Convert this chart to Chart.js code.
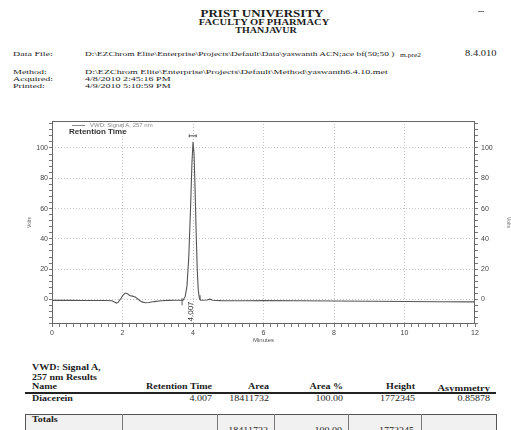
<!DOCTYPE html>
<html>
<head>
<meta charset="utf-8">
<script src="https://cdn.jsdelivr.net/npm/chart.js@4"></script>
<style>
body{margin:0;width:511px;height:430px;overflow:hidden;background:#fff;position:relative;
  font-family:"Liberation Serif","Times New Roman",serif;color:#1c1c1c}
.t{position:absolute;white-space:nowrap;line-height:1;transform-origin:0 50%}
#wrap{position:absolute;left:0;top:100px;width:511px;height:260px}
.rule{position:absolute;background:#333}
</style>
</head>
<body>
<div id="wrap"><canvas id="chrom" width="511" height="260"></canvas></div>
<script>
// chromatogram trace (minutes, signal)
var retentionMinutes = [0, 0.5, 1.0, 1.5, 1.7, 1.78, 1.83, 1.88, 1.95, 2.02, 2.08, 2.14, 2.2, 2.28, 2.36, 2.45, 2.55, 2.65, 2.75, 2.9, 3.1, 3.3, 3.5,
  3.72, 3.78, 3.83, 3.88, 3.93, 3.97, 4.0, 4.03, 4.06, 4.09, 4.12, 4.15, 4.18, 4.22,
  4.4, 4.48, 4.56, 4.8, 5.5, 6, 7, 8, 9, 10, 11, 12];
var signal = [-0.6, -0.6, -0.7, -0.7, -0.9, -1.8, -2.4, -1.8, 0.5, 3.0, 4.2, 3.8, 2.6, 2.2, 1.6, 0, -1.6, -2.2, -2.0, -1.4, -0.9, -0.6, -0.5,
  -0.5, 2, 9, 28, 60, 90, 104, 96, 72, 44, 20, 6, 1, -0.5,
  -0.4, 0.2, -0.5, -0.8, -0.9, -0.8, -0.9, -1.0, -1.2, -1.3, -1.5, -1.6];
var xTickValues = [0, 2, 4, 6, 8, 10, 12];
var yTickValues = [0, 20, 40, 60, 80, 100];
var peakTimes = [4.007];
var peakNames = ['Diacerein'];

// results table
var resultHeaders = ['Name', 'Retention Time', 'Area', 'Area %', 'Height', 'Asymmetry'];
var resultRow = ['Diacerein', '4.007', '18411732', '100.00', '1772345', '0.85878'];
var totalsRow = ['Totals', '', '18411732', '100.00', '1772345', ''];

function put(text, x, y, o) {
  o = o || {};
  var el = document.createElement('div');
  el.className = 't';
  el.textContent = text;
  var s = el.style;
  s.fontSize = (o.size || 10) + 'px';
  if (o.bold) s.fontWeight = 'bold';
  if (o.sans) s.fontFamily = '"Liberation Sans", Arial, sans-serif';
  if (o.color) s.color = o.color;
  s.top = y + 'px';
  var tx = '0';
  if (o.align === 'center') { s.left = x + 'px'; tx = '-50%'; }
  else if (o.align === 'right') { s.right = (511 - x) + 'px'; }
  else s.left = x + 'px';
  s.transform = 'translate(' + tx + ',-50%) scaleY(' + (o.sy || 0.7) + ')';
  document.body.appendChild(el);
  return el;
}
function line(x, y, w, h, c) {
  var d = document.createElement('div');
  d.className = 'rule';
  d.style.cssText = 'left:' + x + 'px;top:' + y + 'px;width:' + w + 'px;height:' + h + 'px;background:' + (c || '#333');
  document.body.appendChild(d);
}

// page header
put('PRIST UNIVERSITY', 262, 14, {size: 13, bold: true, align: 'center', sy: 0.75});
put('FACULTY OF PHARMACY', 264, 23, {size: 10.5, bold: true, align: 'center', sy: 0.72});
put('THANJAVUR', 266, 31, {size: 10, bold: true, align: 'center', sy: 0.72});
line(478, 11, 6, 1, '#777');

put('Data File:', 13, 54);
put(String.raw`D:\EZChrom Elite\Enterprise\Projects\Default\Data\yaswanth ACN;ace bf(50;50 )`, 85, 54, {size: 9.4});
put('m.pre2', 400, 54.5, {size: 7.5});
put('8.4.010', 465, 54, {size: 10.5});
put('Method:', 13, 72);
put(String.raw`D:\EZChrom Elite\Enterprise\Projects\Default\Method\yaswanth6.4.10.met`, 85, 72);
put('Acquired:', 13, 79);
put('4/8/2010 2:45:16 PM', 85, 79);
put('Printed:', 13, 86);
put('4/9/2010 5:10:59 PM', 85, 86);

// legend inside plot
line(72, 125, 13, 1, '#888');
put('VWD: Signal A, 257 nm', 90, 125, {size: 6, sans: true, color: '#888', sy: 0.8});
put('Retention Time', 69, 131.5, {size: 8, sans: true, bold: true, color: '#333', sy: 0.8});

// results
put('VWD: Signal A,', 32, 368, {size: 10, bold: true, sy: 0.75});
put('257 nm Results', 32, 378, {size: 10, bold: true, sy: 0.75});
var colRight = [0, 212, 269, 343, 415, 490];
resultHeaders.forEach(function (h, i) {
  if (i === 0) put(h, 32, 387, {size: 10, bold: true, sy: 0.75});
  else put(h, colRight[i], i === 5 ? 388.5 : 387, {size: i === 5 ? 10.5 : 10, bold: true, align: 'right', sy: 0.75});
});
line(25, 392, 471, 1.5, '#222');
resultRow.forEach(function (v, i) {
  if (i === 0) put(v, 32, 399, {size: 10, bold: true, sy: 0.75});
  else put(v, colRight[i], 399, {size: 10, align: 'right', sy: 0.75});
});
var box = document.createElement('div');
box.style.cssText = 'position:absolute;left:25px;top:414px;width:470px;height:30px;border:1px solid #555;background:#f1f1f1';
document.body.appendChild(box);
[122, 217, 274, 348, 421].forEach(function (x) { line(x, 414, 1, 20, '#777'); });
totalsRow.forEach(function (v, i) {
  if (!v) return;
  if (i === 0) put(v, 32, 420, {size: 10, bold: true, sy: 0.75});
  else put(v, colRight[i] - 1, 431, {size: 10, align: 'right', sy: 0.75});
});

var gridGray = '#c4c4c4';
var tickFont = {family: '"Liberation Sans", Arial, sans-serif', size: 7};

var annotate = {
  id: 'annotate',
  afterDatasetsDraw: function (chart) {
    var ctx = chart.ctx, a = chart.chartArea, x = chart.scales.x, y = chart.scales.y;
    ctx.save();
    ctx.strokeStyle = '#666';
    ctx.lineWidth = 1;
    ctx.strokeRect(a.left + 0.5, a.top + 0.5, a.right - a.left - 1, a.bottom - a.top - 1);
    ctx.strokeStyle = '#555';
    ctx.fillStyle = '#333';
    peakTimes.forEach(function (t) {
      var px = x.getPixelForValue(t);
      // start / end integration marks
      var xs = x.getPixelForValue(3.69), xe = x.getPixelForValue(4.2), yb = y.getPixelForValue(-0.5);
      ctx.beginPath();
      ctx.moveTo(xs, yb - 2); ctx.lineTo(xs, yb + 5);
      ctx.moveTo(xe, yb); ctx.lineTo(xe, yb - 5);
      // apex marker
      var ya = y.getPixelForValue(108);
      ctx.moveTo(px - 4, ya); ctx.lineTo(px + 3, ya);
      ctx.moveTo(px - 4, ya - 1.5); ctx.lineTo(px - 4, ya + 1.5);
      ctx.moveTo(px + 3, ya - 1.5); ctx.lineTo(px + 3, ya + 1.5);
      ctx.stroke();
      ctx.save();
      ctx.translate(px - 2.5, y.getPixelForValue(-1.3));
      ctx.rotate(-Math.PI / 2);
      ctx.font = '8px "Liberation Sans", Arial, sans-serif';
      ctx.textAlign = 'right';
      ctx.textBaseline = 'middle';
      ctx.fillText(t.toFixed(3), 0, 0);
      ctx.restore();
    });
    ctx.restore();
  }
};

function yTicks(scale) {
  var t = [];
  for (var v = -16; v <= 116; v += 4) t.push({value: v});
  scale.ticks = t;
}

new Chart(document.getElementById('chrom'), {
  type: 'line',
  data: {
    datasets: [{
      label: 'VWD: Signal A, 257 nm',
      data: retentionMinutes.map(function (t, i) { return {x: t, y: signal[i]}; }),
      borderColor: '#555',
      borderWidth: 1.1,
      pointRadius: 0,
      tension: 0,
      fill: false
    }]
  },
  options: {
    responsive: false,
    animation: false,
    layout: {padding: {top: 21, left: 0, right: 0, bottom: 0}},
    plugins: {legend: {display: false}, tooltip: {enabled: false}},
    scales: {
      x: {
        type: 'linear', min: 0, max: 12,
        afterBuildTicks: function (scale) {
          var t = [];
          for (var i = 0; i <= 60; i++) t.push({value: i / 5});
          scale.ticks = t;
        },
        afterFit: function (scale) { scale.height = 36; },
        ticks: {
          autoSkip: false, maxRotation: 0, padding: 2, color: '#444', font: tickFont,
          callback: function (v) { return xTickValues.indexOf(v) >= 0 ? String(v) : ''; }
        },
        grid: {
          color: function (c) { var v = c.tick && c.tick.value; return (v > 0 && v < 12 && xTickValues.indexOf(v) >= 0) ? gridGray : 'rgba(0,0,0,0)'; },
          tickColor: '#777', tickLength: 3, tickBorderDash: []
        },
        border: {display: false, dash: [1, 2]},
        title: {display: true, text: 'Minutes', color: '#555', font: {family: tickFont.family, size: 6}, padding: {top: 0, bottom: 16}}
      },
      y: {
        position: 'left', min: -16.2, max: 117.8,
        afterBuildTicks: yTicks,
        afterFit: function (scale) { scale.width = 52; },
        ticks: {
          autoSkip: false, padding: 1, color: '#444', font: tickFont,
          callback: function (v) { return yTickValues.indexOf(v) >= 0 ? String(v) : ''; }
        },
        grid: {
          color: function (c) { var v = c.tick && c.tick.value; return yTickValues.indexOf(v) >= 0 ? gridGray : 'rgba(0,0,0,0)'; },
          tickColor: '#777', tickLength: 3, tickBorderDash: []
        },
        border: {display: false, dash: [1, 2]},
        title: {display: true, text: 'Volts', color: '#666', font: {family: tickFont.family, size: 5}, padding: {top: 27, bottom: 0}}
      },
      y2: {
        position: 'right', min: -16.2, max: 117.8,
        afterBuildTicks: yTicks,
        afterFit: function (scale) { scale.width = 36; },
        ticks: {
          autoSkip: false, padding: 3, color: '#444', font: tickFont,
          callback: function (v) { return yTickValues.indexOf(v) >= 0 ? String(v) : ''; }
        },
        grid: {drawOnChartArea: false, tickColor: '#777', tickLength: 3},
        border: {display: false},
        title: {display: true, text: 'Volts', color: '#666', font: {family: tickFont.family, size: 5}, padding: {top: 0, bottom: 0}}
      }
    }
  },
  plugins: [annotate]
});
</script>
</body>
</html>
